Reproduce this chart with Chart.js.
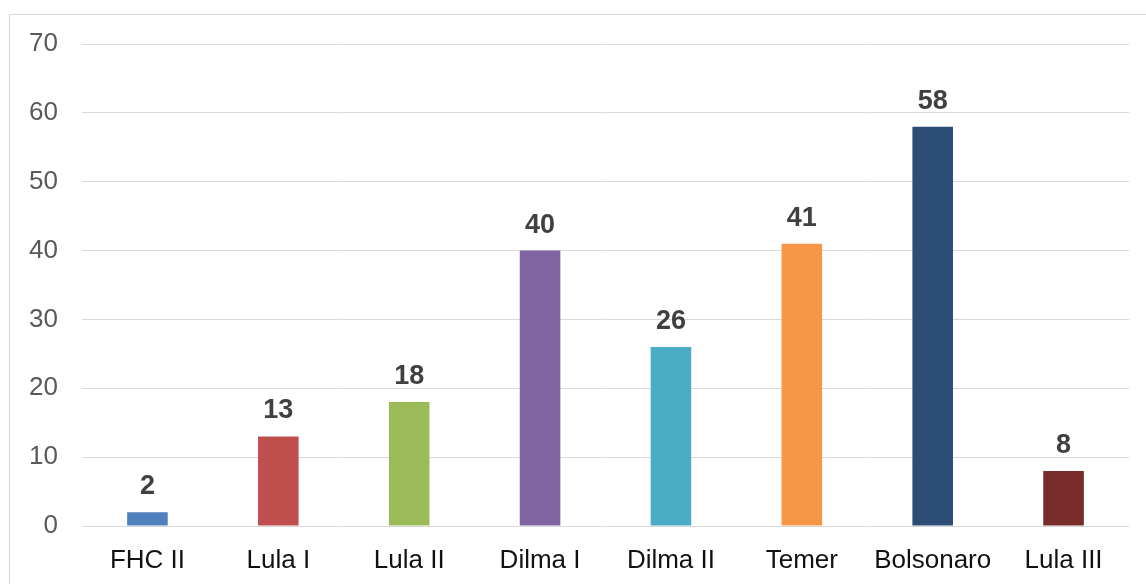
<!DOCTYPE html>
<html>
<head>
<meta charset="utf-8">
<script src="https://cdn.jsdelivr.net/npm/chart.js@4"></script>
<style>
  html, body { margin: 0; padding: 0; background: #fff; }
  #wrap { width: 1146px; height: 584px; position: relative; }
</style>
</head>
<body>
<div id="wrap"><canvas id="govChart"></canvas></div>
<script>
const governos = ['FHC II', 'Lula I', 'Lula II', 'Dilma I', 'Dilma II', 'Temer', 'Bolsonaro', 'Lula III'];
const quantidades = [2, 13, 18, 40, 26, 41, 58, 8];
const cores = ['#4f81bd', '#c0504d', '#9bbb59', '#8064a2', '#4bacc6', '#f79646', '#2c4d75', '#772c2a'];
const yTicks = [0, 10, 20, 30, 40, 50, 60, 70];

// frame around the whole chart
const frame = {
    id: 'frame',
    beforeDraw(chart) {
        const ctx = chart.ctx;
        ctx.save();
        ctx.strokeStyle = '#d9d9d9';
        ctx.lineWidth = 1;
        ctx.strokeRect(9.5, 14.5, chart.width + 20, chart.height + 20);
        ctx.restore();
    }
};

// value above each bar
const valueLabels = {
    id: 'valueLabels',
    afterDatasetsDraw(chart) {
        const ctx = chart.ctx;
        const meta = chart.getDatasetMeta(0);
        ctx.save();
        ctx.font = 'bold 27px "Liberation Sans", Arial, sans-serif';
        ctx.fillStyle = '#404040';
        ctx.textAlign = 'center';
        ctx.textBaseline = 'alphabetic';
        meta.data.forEach((bar, i) => {
            ctx.fillText(String(quantidades[i]), bar.x, bar.y - 18);
        });
        ctx.restore();
    }
};

new Chart(document.getElementById('govChart'), {
    type: 'bar',
    data: {
        labels: governos,
        datasets: [{
            data: quantidades,
            backgroundColor: cores,
            barPercentage: 0.31,
            categoryPercentage: 1
        }]
    },
    options: {
        responsive: true,
        maintainAspectRatio: false,
        animation: false,
        layout: { padding: { top: 44, right: 17, bottom: 0, left: 0 } },
        plugins: {
            legend: { display: false },
            tooltip: { enabled: false }
        },
        scales: {
            x: {
                grid: { display: false, drawTicks: false },
                border: { display: false },
                ticks: {
                    color: '#111111',
                    padding: 19,
                    font: { family: '"Liberation Sans", Arial, sans-serif', size: 26 }
                },
                afterFit(scale) { scale.height = 58; }
            },
            y: {
                min: 0,
                max: 70,
                afterBuildTicks(scale) { scale.ticks = yTicks.map(v => ({ value: v })); },
                grid: { color: '#d9d9d9', lineWidth: 1, drawTicks: false },
                border: { display: false },
                ticks: {
                    color: '#595959',
                    padding: 24,
                    font: { family: '"Liberation Sans", Arial, sans-serif', size: 26 }
                },
                afterFit(scale) { scale.width = 82; }
            }
        }
    },
    plugins: [frame, valueLabels]
});
</script>
</body>
</html>
